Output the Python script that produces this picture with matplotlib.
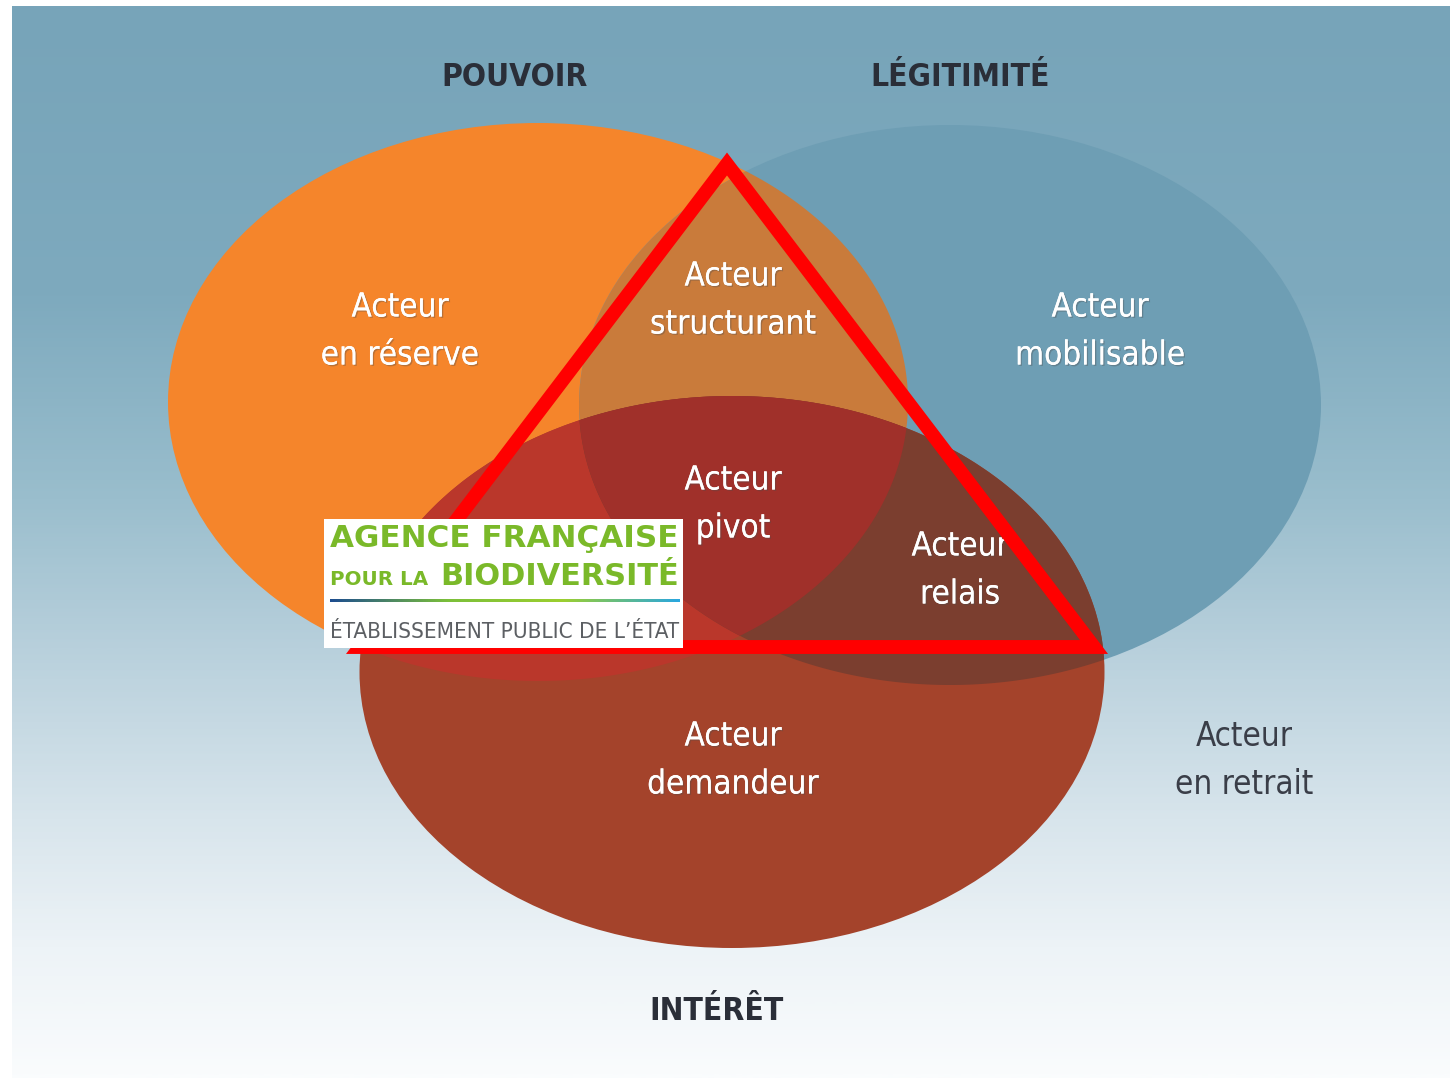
import numpy as np
import matplotlib.pyplot as plt
from matplotlib import font_manager as fm
from matplotlib.font_manager import FontProperties
from matplotlib.patches import Ellipse, Polygon, Rectangle
from matplotlib.colors import LinearSegmentedColormap
import matplotlib.patheffects as pe

plt.rcParams['font.family'] = ['Liberation Sans', 'DejaVu Sans']

# --- données : les trois cercles (pixels de l'image) ---
cercles = ["POUVOIR", "LÉGITIMITÉ", "INTÉRÊT"]
centre_x = [538, 950, 732]
centre_y = [402, 405, 672]
largeur = [740, 742, 745]
hauteur = [558, 560, 552]

# titres des cercles
titres_x = [515, 960, 717]
titres_y = [77, 77, 1012]

# types d'acteurs
acteurs = ["Acteur\nen réserve", "Acteur\nstructurant", "Acteur\nmobilisable",
           "Acteur\npivot", "Acteur\nrelais", "Acteur\ndemandeur", "Acteur\nen retrait"]
acteurs_x = [400, 733, 1100, 733, 960, 733, 1244]
acteurs_y = [331, 300, 331, 504, 570, 760, 760]

# triangle rouge
triangle_x = [727, 360, 1094]
triangle_y = [164, 647, 647]

# --- couleurs ---
couleur_seul = ["#f5852b", "#6e9eb4", "#a4432b"]
couleur_paire = {(0, 1): "#c97b3b", (0, 2): "#ba372b", (1, 2): "#7b3e2f"}
couleur_triple = "#a0302a"


# --- police étroite si disponible ---
def police_etroite(gras):
    for f in fm.fontManager.ttflist:
        nom = f.name.lower()
        etroit = ("narrow" in nom or "condensed" in nom or
                  str(f.stretch) in ("condensed", "semi-condensed", "extra-condensed"))
        if not etroit or f.style != "normal":
            continue
        w = f.weight if isinstance(f.weight, int) else (700 if "bold" in str(f.weight) else 400)
        if (w >= 600) == gras and "mono" not in nom and "serif" not in nom.replace("sans", ""):
            return FontProperties(fname=f.fname)
    return None


fp_reg = police_etroite(False)
fp_bold = police_etroite(True)
if fp_reg is None:
    fp_reg = FontProperties(family=['Liberation Sans', 'DejaVu Sans'])
if fp_bold is None:
    fp_bold = FontProperties(family=['Liberation Sans', 'DejaVu Sans'], weight="bold")


def contour(i, n=3000):
    t = np.linspace(0, 2 * np.pi, n, endpoint=False)
    return np.column_stack([centre_x[i] + largeur[i] / 2 * np.cos(t),
                            centre_y[i] + hauteur[i] / 2 * np.sin(t)])


def dedans(pts, i):
    return (((pts[:, 0] - centre_x[i]) / (largeur[i] / 2)) ** 2 +
            ((pts[:, 1] - centre_y[i]) / (hauteur[i] / 2)) ** 2) <= 1.0


def intersection(idx):
    # intersection d'ellipses convexes -> polygone convexe
    pts = []
    for i in idx:
        p = contour(i)
        m = np.ones(len(p), bool)
        for j in idx:
            if j != i:
                m &= dedans(p, j)
        pts.append(p[m])
    pts = np.vstack(pts)
    c = pts.mean(axis=0)
    a = np.arctan2(pts[:, 1] - c[1], pts[:, 0] - c[0])
    return pts[np.argsort(a)]


fig = plt.figure(figsize=(14.5, 10.78), dpi=100)
ax = fig.add_axes([0, 0, 1, 1])
ax.set_xlim(0, 1450)
ax.set_ylim(1078, 0)
ax.axis("off")
rend = fig.canvas.get_renderer()


def taille_pour(texte, fp, w):
    t = ax.text(0, 0, texte, fontproperties=fp, fontsize=20)
    bb = t.get_window_extent(renderer=rend)
    t.remove()
    return 20 * w / bb.width


def ajuster(t, w):
    bb = t.get_window_extent(renderer=rend)
    t.set_fontsize(t.get_fontsize() * w / bb.width)


taille = taille_pour("Acteur", fp_reg, 97)
taille_titre = taille_pour("POUVOIR", fp_bold, 146)

# --- fond dégradé ---
fond = LinearSegmentedColormap.from_list("fond", [
    (0.0, "#77a4b9"), (0.27, "#7eaabe"), (0.46, "#9abecd"), (0.6, "#b8d0dc"),
    (0.76, "#d8e5ec"), (0.88, "#edf3f7"), (1.0, "#fafcfd")])
ax.imshow(np.linspace(0, 1, 400).reshape(-1, 1), cmap=fond, aspect="auto",
          extent=(12, 1450, 1078, 6), zorder=0)

# --- cercles ---
for i in range(3):
    ax.add_patch(Ellipse((centre_x[i], centre_y[i]), largeur[i], hauteur[i],
                         facecolor=couleur_seul[i], edgecolor="none", zorder=1))
for (i, j), c in couleur_paire.items():
    ax.add_patch(Polygon(intersection([i, j]), closed=True, facecolor=c,
                         edgecolor="none", zorder=2))
ax.add_patch(Polygon(intersection([0, 1, 2]), closed=True, facecolor=couleur_triple,
                     edgecolor="none", zorder=3))

# --- textes ---
for nom, x, y in zip(cercles, titres_x, titres_y):
    ax.text(x, y, nom, ha="center", va="center", fontproperties=fp_bold,
            fontsize=taille_titre, color="#2a2e38", zorder=5)

ombre = [pe.withSimplePatchShadow(offset=(1, -1), alpha=0.35)]
for k, (lab, x, y) in enumerate(zip(acteurs, acteurs_x, acteurs_y)):
    l1, l2 = lab.split("\n")
    col = "#3a3e48" if k == len(acteurs) - 1 else "white"
    for ligne, dy in ((l1, -24), (l2, 24)):
        t = ax.text(x, y + dy, ligne, ha="center", va="center", fontproperties=fp_reg,
                    fontsize=taille, color=col, zorder=5)
        if col == "white":
            t.set_path_effects(ombre + [pe.Normal()])

# --- triangle ---
ax.add_patch(Polygon(np.column_stack([triangle_x, triangle_y]), closed=True, fill=False,
                     edgecolor="#ff0000", linewidth=10, joinstyle="miter", zorder=6))

# --- logo ---
ax.add_patch(Rectangle((324, 519), 359, 129, facecolor="white", edgecolor="none", zorder=7))

vert = "#7ab929"
logo = ["DejaVu Sans"]
t = ax.text(330, 547, "AGENCE FRANÇAISE", ha="left", va="baseline", fontsize=24,
            fontweight="bold", color=vert, family=logo, zorder=8)
ajuster(t, 350)
t = ax.text(330, 585, "POUR LA", ha="left", va="baseline", fontsize=16,
            fontweight="bold", color=vert, family=logo, zorder=8)
ajuster(t, 98)
t = ax.text(440, 585, "BIODIVERSITÉ", ha="left", va="baseline", fontsize=24,
            fontweight="bold", color=vert, family=logo, zorder=8)
ajuster(t, 240)

trait = LinearSegmentedColormap.from_list("trait", ["#1d4d8f", "#7bbf3a", "#9ccf2f", "#2aa7df"])
ax.imshow(np.linspace(0, 1, 200).reshape(1, -1), cmap=trait, aspect="auto",
          extent=(330, 680, 602.5, 599.5), zorder=8)

t = ax.text(330, 638, "ÉTABLISSEMENT PUBLIC DE L’ÉTAT",
            ha="left", va="baseline", fontproperties=fp_reg, fontsize=14,
            color="#5c5f63", zorder=8)
ajuster(t, 350)

ax.set_xlim(0, 1450)
ax.set_ylim(1078, 0)
fig.savefig("out.png", dpi=100)
plt.close(fig)
